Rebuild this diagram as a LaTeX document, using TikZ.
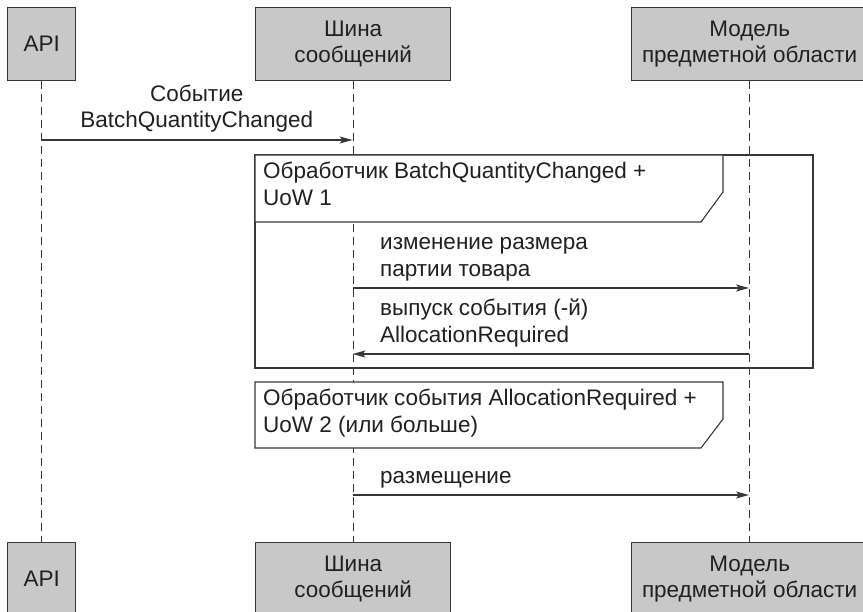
\documentclass[tikz,border=0pt]{standalone}
\usepackage{fontspec}
\setmainfont{Liberation Sans}
\usetikzlibrary{arrows.meta}
\definecolor{boxgray}{RGB}{200,200,200}
\definecolor{ink}{RGB}{35,31,32}
\definecolor{linecol}{RGB}{55,55,55}
\begin{document}
\begin{tikzpicture}[x=1pt,y=-1pt,
  font=\fontsize{22.5}{26.5}\selectfont,
  actor/.style={draw=linecol, line width=1.3pt, fill=boxgray, text=ink, align=center,
    inner sep=0pt, anchor=north west, minimum height=73pt},
  lifeline/.style={draw=linecol, line width=1.1pt, dash pattern=on 8pt off 5pt},
  msg/.style={draw=linecol, line width=1.1pt, -{Stealth[length=13pt,width=7pt,inset=3pt]}},
  lbl/.style={text=ink, inner sep=0pt, align=left},
  framebox/.style={draw=linecol, line width=1.1pt},
  hdr/.style={draw=linecol, line width=1.1pt, fill=white}]
\useasboundingbox (0,0) rectangle (863,612);
\clip (0,0) rectangle (863,612);
% actors top
\node[actor, minimum width=68pt] (apiT) at (7,7) {API};
\node[actor, minimum width=195pt] (busT) at (255,7) {Шина\\сообщений};
\node[actor, minimum width=236pt] (domT) at (631,7) {Модель\\предметной области};
% actors bottom
\node[actor, minimum width=68pt] (apiB) at (7,542) {API};
\node[actor, minimum width=195pt] (busB) at (255,542) {Шина\\сообщений};
\node[actor, minimum width=236pt] (domB) at (631,542) {Модель\\предметной области};
% lifelines
\draw[lifeline] (apiT.south) -- (apiB.north);
\draw[lifeline] (busT.south) -- (busB.north);
\draw[lifeline] (domT.south) -- (domB.north);
% message 1
\coordinate (m1a) at (41,140);
\coordinate (m1b) at (352.5,140);
\draw[msg] (m1a) -- (m1b) node[lbl, midway, above=7pt, align=center] (l1) {Событие\\BatchQuantityChanged};
% frame 1
\draw[framebox] (255,155) rectangle (813,368);
\draw[hdr] (255,155) -- (723,155) -- (723,192) -- (701,222) -- (255,222) -- cycle;
\node[lbl, anchor=north west] (h1) at (263,162) {Обработчик BatchQuantityChanged +\\UoW 1};
% message 2
\coordinate (m2a) at (352.5,288);
\coordinate (m2b) at (749,288);
\draw[msg] (m2a) -- (m2b);
\node[lbl, anchor=south west] (l2) at (380,281) {изменение размера\\партии товара};
% message 3
\coordinate (m3a) at (352.5,354);
\coordinate (m3b) at (749,354);
\draw[msg] (m3b) -- (m3a);
\node[lbl, anchor=south west] (l3) at (380,347) {выпуск события (-й)\\AllocationRequired};
% frame 2 header
\draw[hdr] (255,382) -- (723,382) -- (723,419) -- (701,448) -- (255,448) -- cycle;
\node[lbl, anchor=north west] (h2) at (263,389) {Обработчик события AllocationRequired +\\UoW 2 (или больше)};
% message 4
\coordinate (m4a) at (352.5,495);
\coordinate (m4b) at (749,495);
\draw[msg] (m4a) -- (m4b);
\node[lbl, anchor=south west] (l4) at (380,488) {размещение};
\end{tikzpicture}
\end{document}
